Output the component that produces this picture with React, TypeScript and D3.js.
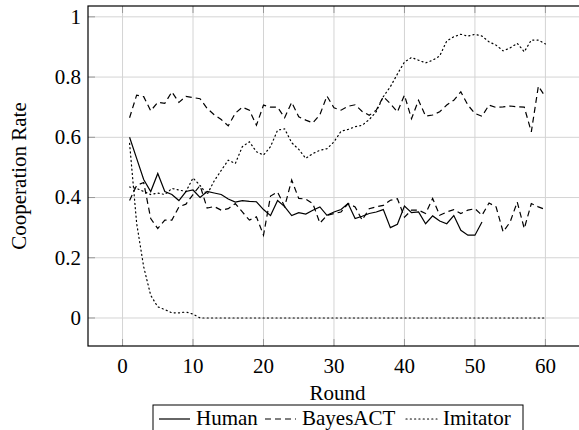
import * as d3 from "d3";

const rounds = d3.range(1, 61);

const human = [
  0.6, 0.53, 0.46, 0.42, 0.48, 0.42, 0.41, 0.39, 0.42, 0.425,
  0.4, 0.42, 0.415, 0.41, 0.395, 0.385, 0.39, 0.387, 0.386, 0.36,
  0.34, 0.39, 0.37, 0.34, 0.35, 0.345, 0.358, 0.369, 0.341, 0.352,
  0.36, 0.38, 0.33, 0.338, 0.347, 0.352, 0.36, 0.3, 0.311, 0.372,
  0.35, 0.352, 0.313, 0.339, 0.322, 0.313, 0.34, 0.291, 0.275, 0.275, 0.319
];

// BayesACT playing against the imitator (upper) and against humans (lower)
const bayesHigh = [
  0.665, 0.74, 0.735, 0.688, 0.716, 0.713, 0.751, 0.716, 0.736, 0.732,
  0.728, 0.696, 0.675, 0.659, 0.638, 0.68, 0.7, 0.69, 0.64, 0.707,
  0.7, 0.7, 0.665, 0.716, 0.668, 0.657, 0.648, 0.675, 0.737, 0.698,
  0.69, 0.703, 0.708, 0.686, 0.673, 0.69, 0.735, 0.712, 0.684, 0.74,
  0.662, 0.723, 0.67, 0.674, 0.685, 0.707, 0.723, 0.751, 0.707, 0.679,
  0.67, 0.707, 0.699, 0.701, 0.704, 0.701, 0.7, 0.618, 0.77, 0.734
];
const bayesLow = [
  0.39, 0.44, 0.45, 0.33, 0.297, 0.325, 0.325, 0.369, 0.378, 0.41,
  0.44, 0.365, 0.37, 0.358, 0.363, 0.38, 0.352, 0.325, 0.336, 0.275,
  0.405, 0.418, 0.37, 0.458, 0.397, 0.395, 0.38, 0.315, 0.341, 0.347,
  0.352, 0.38, 0.369, 0.325, 0.363, 0.369, 0.374, 0.391, 0.396, 0.335,
  0.358, 0.358, 0.347, 0.397, 0.341, 0.352, 0.36, 0.347, 0.358, 0.363,
  0.341, 0.382, 0.369, 0.286, 0.319, 0.385, 0.297, 0.38, 0.369, 0.36
];

const imitatorHigh = [
  0.435, 0.43, 0.42, 0.41, 0.415, 0.41, 0.43, 0.425, 0.42, 0.465,
  0.44, 0.41, 0.455, 0.49, 0.524, 0.513, 0.569, 0.585, 0.552, 0.541,
  0.569, 0.624, 0.628, 0.582, 0.56, 0.53, 0.546, 0.557, 0.562, 0.585,
  0.62, 0.626, 0.635, 0.64, 0.659, 0.685, 0.735, 0.768, 0.81, 0.85,
  0.865, 0.856, 0.847, 0.856, 0.87, 0.92, 0.934, 0.942, 0.936, 0.942,
  0.936, 0.917, 0.906, 0.887, 0.897, 0.912, 0.884, 0.923, 0.923, 0.91
];
const imitatorLow = [
  0.58, 0.315, 0.17, 0.075, 0.037, 0.028, 0.017, 0.017, 0.02, 0.013,
  0, 0, 0, 0, 0, 0, 0, 0, 0, 0,
  0, 0, 0, 0, 0, 0, 0, 0, 0, 0,
  0, 0, 0, 0, 0, 0, 0, 0, 0, 0,
  0, 0, 0, 0, 0, 0, 0, 0, 0, 0,
  0, 0, 0, 0, 0, 0, 0, 0, 0, 0
];

const xTicks = [0, 10, 20, 30, 40, 50, 60];
const yTicks = [0, 0.2, 0.4, 0.6, 0.8, 1];

const legendNames = ["Human", "BayesACT", "Imitator"];

const SOLID = "none";
const DASHED = "6 4";
const DOTTED = "1.1 3.2";

export default function App() {
  const width = 579;
  const height = 430;
  const left = 88, right = 587, top = 6, bottom = 346;
  const font = "'Liberation Serif', 'Times New Roman', serif";

  const x = d3.scaleLinear().domain([-4.9, 65.9]).range([left, right]);
  const y = d3.scaleLinear().domain([-0.093, 1.036]).range([bottom, top]);

  const line = d3.line<number>()
    .x((_, i) => x(rounds[i]))
    .y(d => y(d));

  const series = [
    { values: human, dash: SOLID },
    { values: bayesHigh, dash: DASHED },
    { values: bayesLow, dash: DASHED },
    { values: imitatorHigh, dash: DOTTED },
    { values: imitatorLow, dash: DOTTED }
  ];

  const tickLen = 7;

  // legend layout (samples + labels in one row)
  const legendTop = 405;
  const legendBase = 425;
  const legendItems = [
    { name: legendNames[0], dash: SOLID, x0: 159, tx: 196 },
    { name: legendNames[1], dash: DASHED, x0: 265, tx: 302 },
    { name: legendNames[2], dash: DOTTED, x0: 406, tx: 443 }
  ];

  return (
    <svg width={width} height={height}
      style={{ position: "absolute", left: 0, top: 0, background: "#fff" }}
      fontFamily={font} fontSize={21}>
      {/* grid */}
      <g stroke="#d4d4d4" strokeWidth={1}>
        {xTicks.map(t => (
          <line key={"gx" + t} x1={x(t)} x2={x(t)} y1={top} y2={bottom} />
        ))}
        {yTicks.map(t => (
          <line key={"gy" + t} x1={left} x2={right} y1={y(t)} y2={y(t)} />
        ))}
      </g>
      {/* inner ticks */}
      <g stroke="#999" strokeWidth={1}>
        {xTicks.map(t => (
          <g key={"tx" + t}>
            <line x1={x(t)} x2={x(t)} y1={bottom} y2={bottom - tickLen} />
            <line x1={x(t)} x2={x(t)} y1={top} y2={top + tickLen} />
          </g>
        ))}
        {yTicks.map(t => (
          <line key={"ty" + t} x1={left} x2={left + tickLen} y1={y(t)} y2={y(t)} />
        ))}
      </g>
      {/* data */}
      <g fill="none" stroke="#000" strokeWidth={1.2}>
        {series.map((s, i) => (
          <path key={i} d={line(s.values) ?? ""}
            strokeDasharray={s.dash}
            strokeLinecap={s.dash === DOTTED ? "round" : "butt"} />
        ))}
      </g>
      {/* frame */}
      <rect x={left} y={top} width={right - left} height={bottom - top}
        fill="none" stroke="#000" strokeWidth={1.2} />
      {/* tick labels */}
      <g fill="#000">
        {xTicks.map(t => (
          <text key={"lx" + t} x={x(t)} y={373} textAnchor="middle">{t}</text>
        ))}
        {yTicks.map(t => (
          <text key={"ly" + t} x={81} y={y(t)} dy="0.33em" textAnchor="end">{t}</text>
        ))}
      </g>
      <text x={(left + right) / 2} y={400} textAnchor="middle">Round</text>
      <text transform={`translate(26,${(top + bottom) / 2}) rotate(-90)`}
        textAnchor="middle">Cooperation Rate</text>
      {/* legend */}
      <rect x={153} y={legendTop} width={370} height={40}
        fill="#fff" stroke="#000" strokeWidth={1} />
      {legendItems.map(it => (
        <g key={it.name}>
          <line x1={it.x0} x2={it.x0 + 31} y1={legendBase - 6} y2={legendBase - 6}
            stroke="#000" strokeWidth={1.2} strokeDasharray={it.dash}
            strokeLinecap={it.dash === DOTTED ? "round" : "butt"} />
          <text x={it.tx} y={legendBase}>{it.name}</text>
        </g>
      ))}
    </svg>
  );
}
